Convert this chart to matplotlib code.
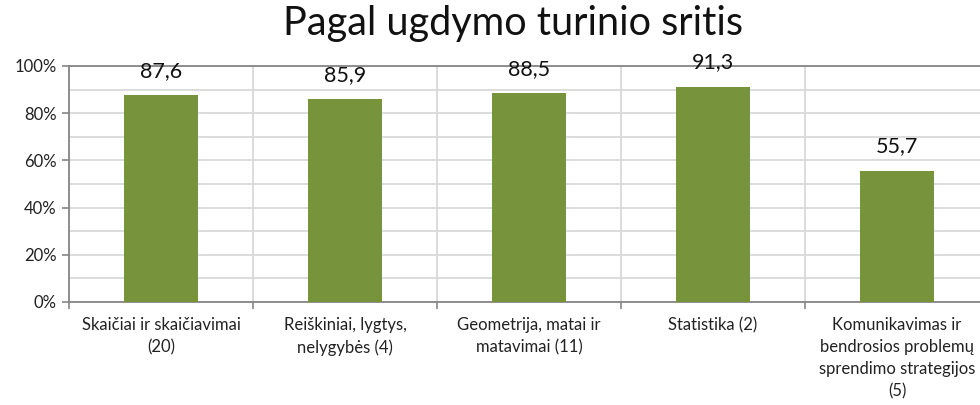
import matplotlib
matplotlib.use('Agg')
import matplotlib.pyplot as plt
from matplotlib.ticker import MultipleLocator, FuncFormatter

plt.rcParams['font.family'] = ['Lato', 'DejaVu Sans']

# data
categories = ['Skaičiai ir skaičiavimai\n(20)',
              'Reiškiniai, lygtys,\nnelygybės (4)',
              'Geometrija, matai ir\nmatavimai (11)',
              'Statistika (2)',
              'Komunikavimas ir\nbendrosios problemų\nsprendimo strategijos\n(5)']
values = [87.6, 85.9, 88.5, 91.3, 55.7]
value_labels = ['87,6', '85,9', '88,5', '91,3', '55,7']

bar_color = '#77933C'
grid_color = '#D9D9D9'
axis_color = '#868686'

fig = plt.figure(figsize=(9.8, 4.05), dpi=100)
W, H = 980, 405
ax = fig.add_axes([69 / W, (H - 302) / H, 920 / W, 236 / H])

x = list(range(len(categories)))
ax.bar(x, values, width=0.4, color=bar_color, zorder=3)

for xi, v, lab in zip(x, values, value_labels):
    ax.annotate(lab, (xi, v), xytext=(0, 13), textcoords='offset points',
                ha='center', va='baseline', fontsize=15.5, color='#111111',
                zorder=4, annotation_clip=False)

ax.set_xlim(-0.5, len(categories) - 0.5)
ax.set_ylim(0, 100)

# category separators as major ticks, names as minor ticks
ax.set_xticks([i - 0.5 for i in range(len(categories) + 1)])
ax.set_xticklabels([])
ax.set_xticks(x, minor=True)
ax.set_xticklabels(categories, minor=True, fontsize=12, color='#222222',
                   linespacing=1.45)
ax.tick_params(axis='x', which='minor', length=0, pad=11)
ax.tick_params(axis='x', which='major', length=5, color=axis_color, width=1.2)

ax.yaxis.set_major_locator(MultipleLocator(20))
ax.yaxis.set_minor_locator(MultipleLocator(10))
ax.yaxis.set_major_formatter(FuncFormatter(lambda v, p: f'{v:.0f}%'))
ax.tick_params(axis='y', which='major', length=5, color=axis_color,
               width=1.2, labelsize=12, labelcolor='#222222', pad=4)
ax.tick_params(axis='y', which='minor', length=0)

ax.grid(axis='y', which='both', color=grid_color, linewidth=1.3, zorder=0)
ax.grid(axis='x', which='major', color=grid_color, linewidth=1.3, zorder=0)

for side in ['left', 'bottom', 'top']:
    ax.spines[side].set_color(axis_color)
    ax.spines[side].set_linewidth(1.3)
ax.spines['right'].set_visible(False)

fig.text(513 / W, 1 - 23 / H, 'Pagal ugdymo turinio sritis', ha='center',
         va='center', fontsize=28.5, color='#111111')

fig.savefig('out.png', dpi=100)
